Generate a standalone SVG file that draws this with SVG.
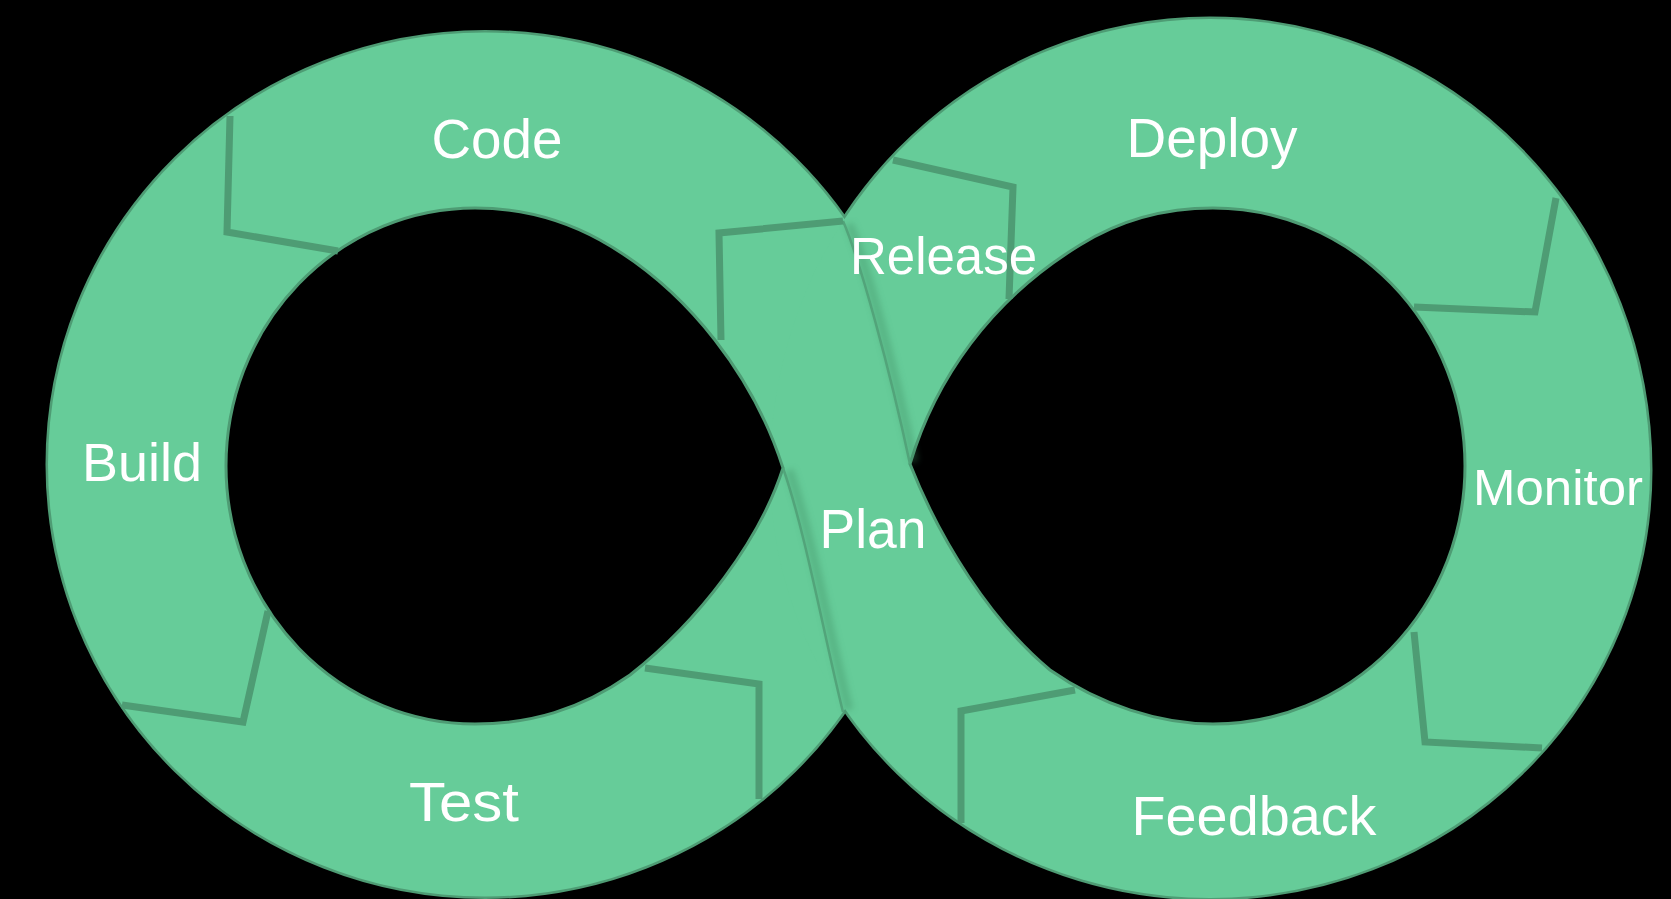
<svg xmlns="http://www.w3.org/2000/svg" width="1671" height="899" viewBox="0 0 1671 899">
<style>
.ring{fill:#66CC99}
.edge{fill:none;stroke:#4E9C74;stroke-width:5}
.hole{fill:#000;stroke:#4E9C74;stroke-width:3}
.div{fill:none;stroke:#4E9C74;stroke-width:7;stroke-linejoin:miter}
.seam{fill:none;stroke:#52A47A;stroke-width:2.5}
.shade{fill:none;stroke:#3C8A60;stroke-width:9;opacity:.35}
.lbl{fill:#FFFFFF;font-family:"Liberation Sans",Arial,sans-serif;text-anchor:middle}
</style>
<defs>
<filter id="blur" x="-20%" y="-20%" width="140%" height="140%"><feGaussianBlur stdDeviation="3"/></filter>
</defs>
<rect width="1671" height="899" fill="#000000"/>
<g id="shape">
<ellipse class="edge" cx="485" cy="464.5" rx="437" ry="432"/>
<path class="edge" d="M770 470A440 451 0 0 1 1650 470A440 428 0 0 1 770 470Z"/>
<ellipse class="ring" cx="485" cy="464.5" rx="437" ry="432"/>
<path class="ring" d="M770 470A440 451 0 0 1 1650 470A440 428 0 0 1 770 470Z"/>
<path class="hole" d="M783 468C755 380 690 290 600 240C560 218 520 208 475 208A249 258 0 0 0 226 466A249 258 0 0 0 475 724C530 724 580 710 630 675C700 620 760 540 783 468Z"/>
<path class="hole" d="M910 464C935 380 990 300 1080 245C1120 220 1165 208 1213 208A252 258 0 0 1 1465 466A252 258 0 0 1 1213 724C1160 724 1100 705 1050 670C990 620 940 540 910 464Z"/>
</g>
<g id="plan-band">
<path class="shade" filter="url(#blur)" d="M849 224C866 262 895 372 914 462"/>
<path class="shade" filter="url(#blur)" d="M789 470C811 532 831 642 849 710"/>
<path class="seam" d="M843 221C860 260 890 370 910 464"/>
<path class="seam" d="M783 468C805 530 825 640 843 712"/>
</g>
<g id="connectors">
<polyline class="div" points="230,116 227,232 338,251"/>
<polyline class="div" points="268,611 243,722 122,705"/>
<polyline class="div" points="645,668 759,684 759,799"/>
<polyline class="div" points="1075,690 961,711 961,823"/>
<polyline class="div" points="1414,632 1425,742 1542,748"/>
<polyline class="div" points="1556,198 1535,312 1414,307"/>
<polyline class="div" points="893,160 1013,187 1009,299"/>
<polyline class="div" points="843,221 719,233 721,340"/>
</g>
<g id="node-code"><text class="lbl" x="497" y="158" font-size="56" textLength="131" lengthAdjust="spacingAndGlyphs">Code</text></g>
<g id="node-build"><text class="lbl" x="142" y="481" font-size="54" textLength="120" lengthAdjust="spacingAndGlyphs">Build</text></g>
<g id="node-test"><text class="lbl" x="464" y="821" font-size="55" textLength="110" lengthAdjust="spacingAndGlyphs">Test</text></g>
<g id="node-plan"><text class="lbl" x="873" y="548" font-size="55" textLength="107" lengthAdjust="spacingAndGlyphs">Plan</text></g>
<g id="node-release"><text class="lbl" x="943.5" y="274" font-size="51" textLength="187" lengthAdjust="spacingAndGlyphs">Release</text></g>
<g id="node-deploy"><text class="lbl" x="1212" y="157" font-size="55" textLength="171" lengthAdjust="spacingAndGlyphs">Deploy</text></g>
<g id="node-monitor"><text class="lbl" x="1558" y="505" font-size="50" textLength="170" lengthAdjust="spacingAndGlyphs">Monitor</text></g>
<g id="node-feedback"><text class="lbl" x="1254" y="835" font-size="55" textLength="245" lengthAdjust="spacingAndGlyphs">Feedback</text></g>
</svg>
